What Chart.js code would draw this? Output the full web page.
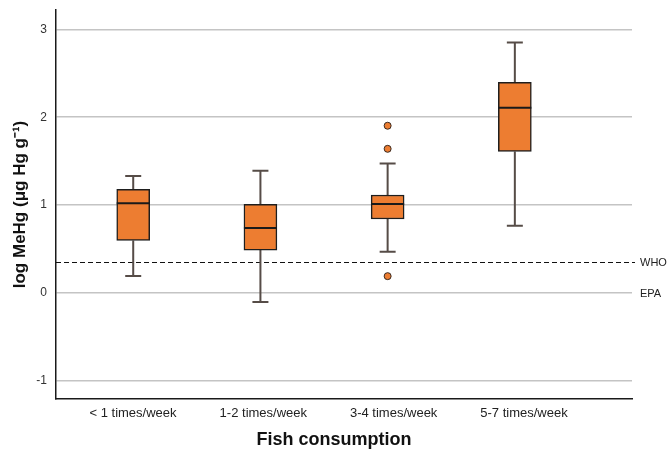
<!DOCTYPE html>
<html>
<head>
<meta charset="utf-8">
<script src="https://cdn.jsdelivr.net/npm/chart.js@4/dist/chart.umd.min.js"></script>
<style>
  html, body { margin: 0; padding: 0; background: #ffffff; }
  #wrap { width: 668px; height: 450px; position: relative; }
</style>
</head>
<body>
<div id="wrap"><canvas id="chart" width="668" height="450"></canvas></div>
<script>
// Fish consumption groups and the log MeHg box summaries for each group
const categories = ['< 1 times/week', '1-2 times/week', '3-4 times/week', '5-7 times/week'];
const whiskerLow  = [0.19, -0.105, 0.466, 0.764];
const quartile1   = [0.596, 0.486, 0.84, 1.609];
const medianVals  = [1.019, 0.737, 1.011, 2.109];
const quartile3   = [1.179, 1.008, 1.114, 2.398];
const whiskerHigh = [1.331, 1.389, 1.472, 2.851];
const outliers    = [[], [], [0.189, 1.64, 1.903], []];

// Y-axis ticks and guideline levels
const yTicks = [-1, 0, 1, 2, 3];
const guideNames  = ['WHO', 'EPA'];
const guideValues = [0.35, 0];
const guideDashed = [true, false];

const xTitle = 'Fish consumption';
const yTitle = 'log MeHg (μg Hg g⁻¹)';

const BOX_FILL = '#ED7D31';
const BOX_EDGE = '#1e1e1e';
const WHISKER = '#564c47';
const FONT = '"Liberation Sans", Arial, sans-serif';

const positions = categories.map((_, i) => i + 1);

const boxData = positions.map((p, i) => ({ x: p, y: [quartile1[i], quartile3[i]] }));
const outlierData = [];
outliers.forEach((vals, i) => vals.forEach(v => outlierData.push({ x: positions[i], y: v })));

const boxPlugin = {
  id: 'boxParts',
  beforeDatasetsDraw(chart) {
    const { ctx, chartArea, scales } = chart;
    const xs = scales.x, ys = scales.y;
    ctx.save();
    // guideline (WHO dashed)
    guideValues.forEach((v, i) => {
      if (!guideDashed[i]) return;
      const py = Math.round(ys.getPixelForValue(v)) + 0.5;
      ctx.beginPath();
      ctx.setLineDash([5, 3]);
      ctx.strokeStyle = '#111';
      ctx.lineWidth = 1.2;
      ctx.moveTo(chartArea.left, py);
      ctx.lineTo(chartArea.right + 3, py);
      ctx.stroke();
    });
    ctx.setLineDash([]);
    // whiskers and caps
    ctx.strokeStyle = WHISKER;
    ctx.lineWidth = 2;
    positions.forEach((p, i) => {
      const px = xs.getPixelForValue(p);
      const yLo = ys.getPixelForValue(whiskerLow[i]);
      const yQ1 = ys.getPixelForValue(quartile1[i]);
      const yQ3 = ys.getPixelForValue(quartile3[i]);
      const yHi = ys.getPixelForValue(whiskerHigh[i]);
      ctx.beginPath();
      ctx.moveTo(px, yLo); ctx.lineTo(px, yQ1);
      ctx.moveTo(px, yQ3); ctx.lineTo(px, yHi);
      ctx.moveTo(px - 8, yLo); ctx.lineTo(px + 8, yLo);
      ctx.moveTo(px - 8, yHi); ctx.lineTo(px + 8, yHi);
      ctx.stroke();
    });
    ctx.restore();
  },
  afterDatasetsDraw(chart) {
    const { ctx, chartArea, scales } = chart;
    const ys = scales.y;
    const meta = chart.getDatasetMeta(0);
    ctx.save();
    // medians across each box
    ctx.strokeStyle = '#1a1a1a';
    ctx.lineWidth = 2;
    meta.data.forEach((bar, i) => {
      const py = ys.getPixelForValue(medianVals[i]);
      ctx.beginPath();
      ctx.moveTo(bar.x - bar.width / 2, py);
      ctx.lineTo(bar.x + bar.width / 2, py);
      ctx.stroke();
    });
    // guideline names on the right
    ctx.fillStyle = '#222';
    ctx.font = '11px ' + FONT;
    ctx.textAlign = 'left';
    ctx.textBaseline = 'middle';
    guideValues.forEach((v, i) => {
      const py = ys.getPixelForValue(v);
      ctx.fillText(guideNames[i], chartArea.right + 8, py + 1);
    });
    // x-axis title, centred on the figure
    ctx.fillStyle = '#111';
    ctx.font = 'bold 18px ' + FONT;
    ctx.textAlign = 'center';
    ctx.textBaseline = 'middle';
    ctx.fillText(xTitle, chart.width / 2, chart.height - 10);
    ctx.restore();
  }
};

new Chart(document.getElementById('chart'), {
  type: 'bar',
  data: {
    datasets: [
      {
        type: 'bar',
        data: boxData,
        xAxisID: 'x',
        backgroundColor: BOX_FILL,
        borderColor: BOX_EDGE,
        borderWidth: 1.5,
        borderSkipped: false,
        barThickness: 33
      },
      {
        type: 'scatter',
        data: outlierData,
        xAxisID: 'x',
        backgroundColor: BOX_FILL,
        borderColor: '#3a2a20',
        borderWidth: 1,
        pointRadius: 3.5
      }
    ]
  },
  plugins: [boxPlugin],
  options: {
    responsive: false,
    animation: false,
    layout: { padding: { top: 10, right: 36, bottom: 0, left: 0 } },
    plugins: {
      legend: { display: false },
      tooltip: { enabled: false }
    },
    scales: {
      x: {
        type: 'linear',
        display: false,
        offset: false,
        min: 0.393,
        max: 4.921
      },
      xl: {
        type: 'linear',
        position: 'bottom',
        offset: false,
        min: 0.409,
        max: 4.829,
        afterBuildTicks: s => { s.ticks = positions.map(v => ({ value: v })); },
        afterFit: s => { s.height = 51; s.paddingLeft = 0; s.paddingRight = 0; },
        grid: { drawOnChartArea: false, drawTicks: false },
        border: { display: true, color: '#1a1a1a', width: 1.5 },
        ticks: {
          autoSkip: false,
          maxRotation: 0,
          padding: 7,
          color: '#222',
          font: { family: FONT, size: 13 },
          callback: v => categories[Math.round(v) - 1] || ''
        }
      },
      y: {
        type: 'linear',
        min: -1.211,
        max: 3.222,
        afterBuildTicks: s => { s.ticks = yTicks.map(v => ({ value: v })); },
        afterFit: s => { s.width = 56; s.paddingTop = 0; s.paddingBottom = 0; },
        grid: { color: '#c4c4c4', lineWidth: 1.5, drawTicks: false },
        border: { display: true, color: '#1a1a1a', width: 1.5 },
        ticks: {
          padding: 9,
          color: '#333',
          font: { family: FONT, size: 12 }
        },
        title: {
          display: true,
          text: yTitle,
          color: '#111',
          font: { family: FONT, size: 17, weight: 'bold' },
          padding: { top: 10, bottom: 0 }
        }
      }
    }
  }
});
</script>
</body>
</html>
